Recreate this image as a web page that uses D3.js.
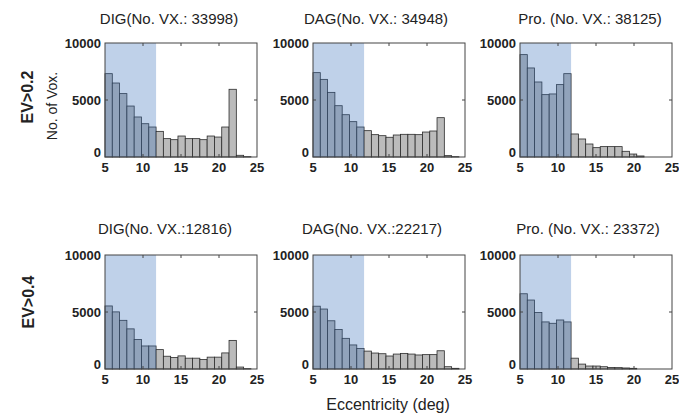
<!DOCTYPE html>
<html>
<head>
<meta charset="utf-8">
<script src="https://cdn.jsdelivr.net/npm/d3@7"></script>
<style>
  body { margin: 0; background: #fff; }
  svg { display: block; font-family: "Liberation Sans", Arial, sans-serif; }
</style>
</head>
<body>
<svg width="679" height="414"></svg>
<script>
// Histogram bins: left edge of first bin and bin width (deg)
const binStart = 5;
const binWidth = 0.96;
const shadeEnd = 7; // number of bins under the blue patch

const titles = [
    "DIG(No. VX.: 33998)", "DAG(No. VX.: 34948)", "Pro. (No. VX.: 38125)",
    "DIG(No. VX.:12816)", "DAG(No. VX.:22217)", "Pro. (No. VX.: 23372)"
];
const rowLabels = ["EV>0.2", "EV>0.4"];
const xTicks = [5, 10, 15, 20, 25];
const yTicks = [0, 5000, 10000];

// voxel counts per bin
const digEv02 = [7310, 6490, 5560, 4470, 3510, 2920, 2630, 2250, 1610, 1520, 1840, 1610, 1610, 1520, 1840, 1750, 2630, 5940, 150, 30];
const dagEv02 = [7400, 6810, 5670, 4500, 3710, 3100, 2630, 2310, 1960, 1870, 1730, 1930, 1990, 1990, 1960, 2190, 2280, 3450, 120, 30];
const proEv02 = [8980, 7810, 6580, 5470, 5530, 6350, 7310, 2020, 1580, 1140, 820, 910, 910, 910, 500, 260, 90, 0, 0, 0];
const digEv04 = [5530, 5010, 4270, 3520, 2590, 2020, 2020, 1700, 1120, 1010, 1150, 950, 950, 840, 1040, 1040, 1410, 2510, 170, 30];
const dagEv04 = [5510, 5260, 4230, 3460, 2690, 2110, 1800, 1570, 1400, 1340, 1140, 1310, 1370, 1310, 1230, 1260, 1260, 1600, 200, 60];
const proEv04 = [6600, 6050, 4960, 4130, 4010, 4300, 4130, 950, 430, 260, 260, 200, 140, 120, 90, 60, 0, 0, 0, 0];

const series = [digEv02, dagEv02, proEv02, digEv04, dagEv04, proEv04];

let svg = d3.select("svg");

// panel layout
const colLeft = [105, 313, 520];
const rowTop = [43, 255];
const panelW = 152;
const panelH = 114;
const titleX = [169, 376, 590];
const titleX2 = [165, 372, 588];

series.forEach((values, i) => {
    let row = Math.floor(i / 3);
    let col = i % 3;
    let g = svg.append("g")
        .attr("transform", `translate(${colLeft[col]},${rowTop[row]})`);

    let x = d3.scaleLinear().domain([5, 25]).range([0, panelW]);
    let y = d3.scaleLinear().domain([0, 10000]).range([panelH, 0]);

    // bars
    g.selectAll("rect.bar")
        .data(values)
        .join("rect")
        .attr("class", "bar")
        .attr("x", (d, k) => x(binStart + k * binWidth))
        .attr("width", x(binStart + binWidth) - x(binStart))
        .attr("y", d => y(d))
        .attr("height", d => y(0) - y(d))
        .attr("fill", "#bbbbbb")
        .attr("stroke", "#2b2b2b")
        .attr("stroke-width", d => d > 0 ? 0.8 : 0);

    // translucent blue patch over the first bins
    g.append("rect")
        .attr("x", x(binStart))
        .attr("width", x(binStart + shadeEnd * binWidth) - x(binStart))
        .attr("y", y(10000))
        .attr("height", y(0) - y(10000))
        .attr("fill", "rgb(55,111,186)")
        .attr("opacity", 0.32);

    // box
    g.append("rect")
        .attr("width", panelW)
        .attr("height", panelH)
        .attr("fill", "none")
        .attr("stroke", "#444")
        .attr("stroke-width", 1);

    // inner ticks, all four sides
    let xt = xTicks.slice(1, -1);
    let yt = yTicks.slice(1, -1);
    g.selectAll("line.xt")
        .data(xt.concat(xt))
        .join("line")
        .attr("x1", d => x(d)).attr("x2", d => x(d))
        .attr("y1", (d, k) => k < xt.length ? panelH : 0)
        .attr("y2", (d, k) => k < xt.length ? panelH - 3 : 3)
        .attr("stroke", "#444");
    g.selectAll("line.yt")
        .data(yt.concat(yt))
        .join("line")
        .attr("y1", d => y(d)).attr("y2", d => y(d))
        .attr("x1", (d, k) => k < yt.length ? 0 : panelW)
        .attr("x2", (d, k) => k < yt.length ? 3 : panelW - 3)
        .attr("stroke", "#444");

    // tick labels
    g.selectAll("text.xl")
        .data(xTicks)
        .join("text")
        .attr("x", d => x(d))
        .attr("y", panelH + 15)
        .attr("text-anchor", "middle")
        .attr("font-size", 13)
        .attr("font-weight", "bold")
        .attr("fill", "#222")
        .text(d => d);
    g.selectAll("text.yl")
        .data(yTicks)
        .join("text")
        .attr("x", -4)
        .attr("y", d => y(d) + (d == 0 ? 0 : 5))
        .attr("text-anchor", "end")
        .attr("font-size", 13)
        .attr("font-weight", "bold")
        .attr("fill", "#222")
        .text(d => d);

    // title
    svg.append("text")
        .attr("x", row == 0 ? titleX[col] : titleX2[col])
        .attr("y", row == 0 ? 24 : 234)
        .attr("text-anchor", "middle")
        .attr("font-size", 15)
        .attr("fill", "#222")
        .text(titles[i]);
});

// row labels
rowLabels.forEach((label, r) => {
    svg.append("text")
        .attr("transform", `translate(${r == 0 ? 33 : 34},${r == 0 ? 97 : 302}) rotate(-90)`)
        .attr("text-anchor", "middle")
        .attr("font-size", 16)
        .attr("font-weight", "bold")
        .attr("fill", "#222")
        .text(label);
});

// y axis label
svg.append("text")
    .attr("transform", "translate(57,106) rotate(-90)")
    .attr("text-anchor", "middle")
    .attr("font-size", 14)
    .attr("fill", "#222")
    .text("No. of Vox.");

// x axis label
svg.append("text")
    .attr("x", 388)
    .attr("y", 410)
    .attr("text-anchor", "middle")
    .attr("font-size", 16)
    .attr("fill", "#222")
    .text("Eccentricity (deg)");
</script>
</body>
</html>
